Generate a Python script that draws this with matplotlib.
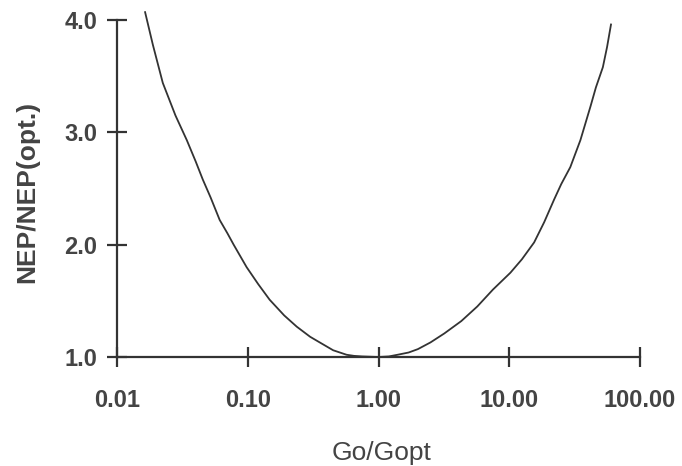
import matplotlib
matplotlib.use('Agg')
import matplotlib.pyplot as plt

# ── data ─────────────────────────────────────────────────────────────────────
G_RATIO = [0.0164, 0.0188, 0.0224, 0.028, 0.0342, 0.040, 0.0453, 0.052,
           0.061, 0.070, 0.078, 0.098, 0.12, 0.147, 0.19, 0.237, 0.30,
           0.355, 0.45, 0.57, 0.65, 0.75, 1.0, 1.2, 1.4, 1.7, 2.0, 2.5,
           3.19, 4.3, 5.7, 7.5, 10.2, 12.5, 15.5, 18.5, 22.0, 25.0, 29.3,
           35.0, 41.8, 46.0, 52.0, 56.0, 60.0]
NEP_RATIO = [4.07, 3.78, 3.44, 3.15, 2.93, 2.74, 2.58, 2.42,
             2.22, 2.10, 2.00, 1.80, 1.65, 1.51, 1.37, 1.27, 1.18,
             1.13, 1.06, 1.02, 1.01, 1.005, 1.0, 1.005, 1.02, 1.04, 1.07, 1.13,
             1.21, 1.32, 1.45, 1.60, 1.75, 1.87, 2.02, 2.20, 2.40, 2.54, 2.69,
             2.93, 3.23, 3.40, 3.58, 3.76, 3.96]

X_TICKS = [0.01, 0.1, 1.0, 10.0, 100.0]
X_LABELS = ['0.01', '0.10', '1.00', '10.00', '100.00']
Y_TICKS = [1.0, 2.0, 3.0, 4.0]
Y_LABELS = ['1.0', '2.0', '3.0', '4.0']

INK = '#333333'
TXT = '#444444'

plt.rcParams['font.family'] = ['Liberation Sans', 'DejaVu Sans']

fig = plt.figure(figsize=(6.82, 4.66), dpi=100, facecolor='white')
# axes box in pixels: x 117..640, y 20..357 (from top)
ax = fig.add_axes([117 / 682, 1 - 357 / 466, 523 / 682, 337 / 466])
ax.set_facecolor('white')

ax.plot(G_RATIO, NEP_RATIO, color=INK, lw=1.3, clip_on=False, zorder=3)

ax.set_xscale('log')
ax.set_xlim(0.01, 100)
ax.set_ylim(1.0, 4.0)

ax.set_xticks(X_TICKS)
ax.set_xticklabels(X_LABELS)
ax.minorticks_off()
ax.set_yticks(Y_TICKS)
ax.set_yticklabels(Y_LABELS)

for side in ('top', 'right'):
    ax.spines[side].set_visible(False)
for side in ('left', 'bottom'):
    ax.spines[side].set_color(INK)
    ax.spines[side].set_linewidth(1.6)

ax.tick_params(axis='both', direction='inout', length=14, width=1.6,
               color=INK, labelcolor=TXT, labelsize=17)
ax.tick_params(axis='x', pad=16)
ax.tick_params(axis='y', pad=7)
for lbl in ax.get_xticklabels() + ax.get_yticklabels():
    lbl.set_fontweight('bold')

ax.set_xlabel('Go/Gopt', color=TXT, fontsize=19)
ax.xaxis.set_label_coords(0.505, -0.25)
ax.xaxis.label.set_va('top')

ax.set_ylabel('NEP/NEP(opt.)', color=TXT, fontsize=19, fontweight='bold')
ax.yaxis.set_label_coords(-0.172, 0.49)
ax.yaxis.label.set_va('center')

fig.savefig('out.png', dpi=100, facecolor='white')
